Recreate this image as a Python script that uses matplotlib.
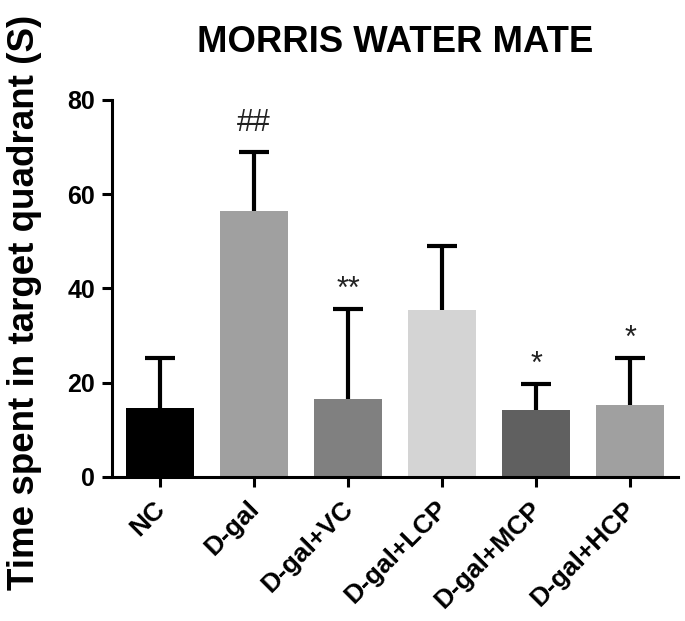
import matplotlib
matplotlib.use("Agg")
import matplotlib.pyplot as plt
import matplotlib.transforms as mtrans
import numpy as np

plt.rcParams['font.family'] = ['Liberation Sans', 'DejaVu Sans']

groups = ["NC", "D-gal", "D-gal+VC", "D-gal+LCP", "D-gal+MCP", "D-gal+HCP"]
means = [14.7, 56.4, 16.6, 35.4, 14.3, 15.2]
sd = [10.6, 12.5, 19.1, 13.6, 5.5, 10.1]
colors = ["#000000", "#a0a0a0", "#808080", "#d4d4d4", "#606060", "#a0a0a0"]
marks = ["", "##", "**", "", "*", "*"]

fig = plt.figure(figsize=(6.85, 6.21), dpi=100)
ax = fig.add_axes([0.1635, 0.2319, 0.8263, 0.6071])

x = np.arange(len(groups))
ax.bar(x, means, width=0.72, color=colors, zorder=2)
eb = ax.errorbar(x, means, yerr=[np.zeros(len(sd)), sd], fmt="none", ecolor="black",
                 elinewidth=3, capsize=11, capthick=3, zorder=3)
eb[1][0].set_visible(False)

# significance marks above the error bars
for xi, m, s, e in zip(x, marks, means, sd):
    if m:
        gap = 6.3 if m == "##" else 4.0
        ax.text(xi, s + e + gap, m, ha="center", va="center", fontsize=22, color="#222222")

ax.set_xlim(-0.51, 5.51)
ax.set_ylim(0, 80)
ax.set_yticks([0, 20, 40, 60, 80])
ax.set_xticks(x)
ax.set_xticklabels(groups, rotation=45, ha="right", rotation_mode="anchor")

for s in ["top", "right"]:
    ax.spines[s].set_visible(False)
for s in ["left", "bottom"]:
    ax.spines[s].set_linewidth(2.2)
ax.tick_params(axis="both", width=2.2, length=7, pad=5)
ax.tick_params(axis="y", labelsize=18)
ax.tick_params(axis="x", labelsize=19)
shift = mtrans.ScaledTranslation(-7 / 100, -3 / 100, fig.dpi_scale_trans)
for lab in ax.get_xticklabels():
    lab.set_fontweight("bold")
    lab.set_transform(lab.get_transform() + shift)
for lab in ax.get_yticklabels():
    lab.set_fontweight("bold")

fig.text(395 / 685, 1 - 43 / 621, "MORRIS WATER MATE", ha="center", va="center",
         fontsize=26.3, fontweight="bold")
fig.text(25 / 685, 1 - 302 / 621, "Time spent in target quadrant (S)", rotation=90,
         ha="center", va="center", fontsize=26.5, fontweight="bold")

fig.savefig("out.png", dpi=100)
